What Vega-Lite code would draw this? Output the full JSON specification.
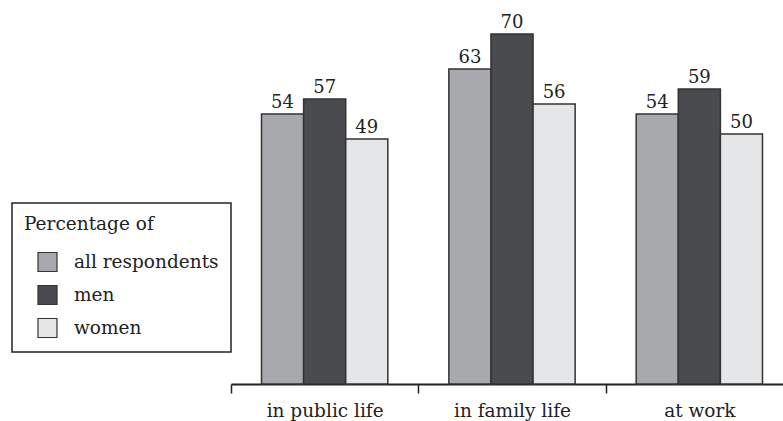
{
  "$schema": "https://vega.github.io/schema/vega-lite/v6.json",
  "width": 552,
  "height": 384,
  "autosize": {"type": "none"},
  "padding": {"left": 231, "top": 0, "right": 0, "bottom": 37},
  "background": "white",
  "config": {"view": {"stroke": null}, "font": "DejaVu Serif"},
  "data": {
    "values": [
      {"area": "in public life", "group": "all respondents", "value": 54},
      {"area": "in public life", "group": "men", "value": 57},
      {"area": "in public life", "group": "women", "value": 49},
      {"area": "in family life", "group": "all respondents", "value": 63},
      {"area": "in family life", "group": "men", "value": 70},
      {"area": "in family life", "group": "women", "value": 56},
      {"area": "at work", "group": "all respondents", "value": 54},
      {"area": "at work", "group": "men", "value": 59},
      {"area": "at work", "group": "women", "value": 50}
    ]
  },
  "encoding": {
    "x": {
      "field": "area",
      "type": "nominal",
      "sort": ["in public life", "in family life", "at work"],
      "scale": {"range": [0, 562], "paddingInner": 0, "paddingOuter": 0},
      "axis": {
        "title": null,
        "labelAngle": 0,
        "tickBand": "extent",
        "domainColor": "#222",
        "domainWidth": 1.8,
        "tickColor": "#222",
        "tickWidth": 1.5,
        "tickSize": 9,
        "labelFontSize": 18.5,
        "labelColor": "#222",
        "labelBaseline": "alphabetic",
        "labelPadding": 23
      }
    },
    "xOffset": {
      "field": "group",
      "type": "nominal",
      "sort": ["all respondents", "men", "women"],
      "scale": {"paddingInner": 0, "paddingOuter": 0.7245}
    },
    "y": {
      "field": "value",
      "type": "quantitative",
      "scale": {"domain": [0, 76.8], "nice": false},
      "axis": null
    }
  },
  "layer": [
    {
      "mark": {"type": "bar", "stroke": "#333", "strokeWidth": 1.5},
      "encoding": {
        "color": {
          "field": "group",
          "type": "nominal",
          "sort": ["all respondents", "men", "women"],
          "scale": {"range": ["#a8a9ac", "#4a4b4e", "#e5e6e8"]},
          "legend": {
            "title": "Percentage of",
            "orient": "none",
            "legendX": -219,
            "legendY": 203,
            "direction": "vertical",
            "strokeColor": "#222",
            "fillColor": "white",
            "padding": 12,
            "symbolType": "square",
            "symbolSize": 361,
            "symbolOffset": 13,
            "symbolStrokeColor": "#333",
            "symbolStrokeWidth": 1.2,
            "symbolOpacity": 1,
            "labelOffset": 16,
            "labelFontSize": 18.5,
            "labelColor": "#222",
            "titleFontSize": 18.5,
            "titleFontWeight": "normal",
            "titleColor": "#222",
            "titlePadding": 18,
            "rowPadding": 8,
            "encode": {"legend": {"update": {"strokeWidth": {"value": 1.5}}}}
          }
        }
      }
    },
    {
      "mark": {"type": "text", "baseline": "alphabetic", "dy": -6, "fontSize": 18, "color": "#222"},
      "encoding": {"text": {"field": "value", "type": "quantitative"}}
    }
  ]
}
